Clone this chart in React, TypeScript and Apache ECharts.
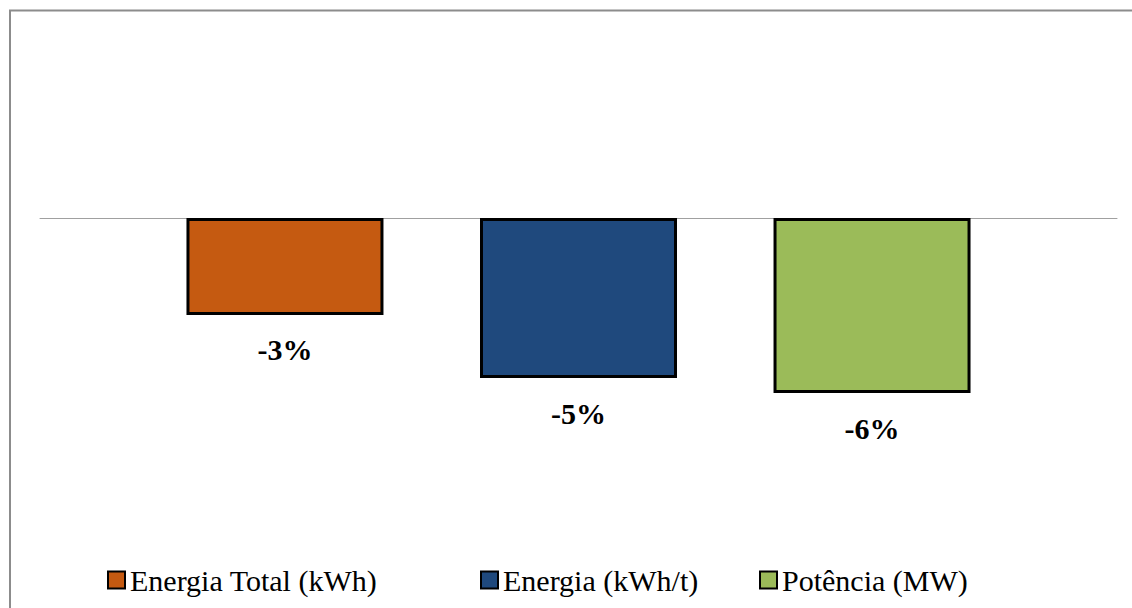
import React, { useEffect, useRef } from "react";
import * as echarts from "echarts";

const seriesNames = ["Energia Total (kWh)", "Energia (kWh/t)", "Potência (MW)"];
const seriesValues = [-3.03, -5.0, -5.47];
const valueLabels = ["-3%", "-5%", "-6%"];
const seriesColors = ["#C55A11", "#1F497D", "#9BBB59"];
const categories = ["Variação"];
const legendLefts = [102, 475, 754];

const FONT = "Times New Roman, Tinos, Liberation Serif, Times, serif";

export default function App() {
  const ref = useRef<HTMLDivElement>(null);
  useEffect(() => {
    const chart = echarts.init(ref.current!, null, { renderer: "svg" });
    chart.setOption({
      animation: false,
      backgroundColor: "#ffffff",
      graphic: [
        {
          type: "rect",
          shape: { x: 10, y: 10.5, width: 1140, height: 640 },
          style: { fill: "none", stroke: "#8c8c8c", lineWidth: 2 },
          silent: true,
        },
      ],
      grid: { left: 40, right: 15, top: 58, bottom: 70 },
      xAxis: {
        type: "category",
        data: categories,
        axisLine: { show: true, onZero: true, lineStyle: { color: "#a0a0a0", width: 1 } },
        axisTick: { show: false },
        axisLabel: { show: false },
        splitLine: { show: false },
      },
      yAxis: {
        type: "value",
        min: -10,
        max: 5,
        show: false,
        splitLine: { show: false },
      },
      legend: seriesNames.map((n, i) => ({
        data: [n],
        left: legendLefts[i],
        top: 560,
        icon: "rect",
        itemWidth: 17,
        itemHeight: 17,
        itemGap: 5,
        textStyle: { fontFamily: FONT, fontSize: 30, color: "#000" },
      })),
      series: seriesNames.map((n, i) => ({
        name: n,
        type: "bar",
        data: [seriesValues[i]],
        barWidth: 197,
        barGap: "49%",
        itemStyle: { color: seriesColors[i], borderColor: "#000", borderWidth: 3 },
        label: {
          show: true,
          position: "bottom",
          distance: 20,
          formatter: () => valueLabels[i],
          fontFamily: FONT,
          fontWeight: "bold",
          fontSize: 30,
          color: "#000",
        },
      })),
    });
    return () => chart.dispose();
  }, []);
  return (
    <div
      ref={ref}
      style={{ position: "fixed", left: 0, top: 0, width: 1132, height: 608 }}
    />
  );
}
